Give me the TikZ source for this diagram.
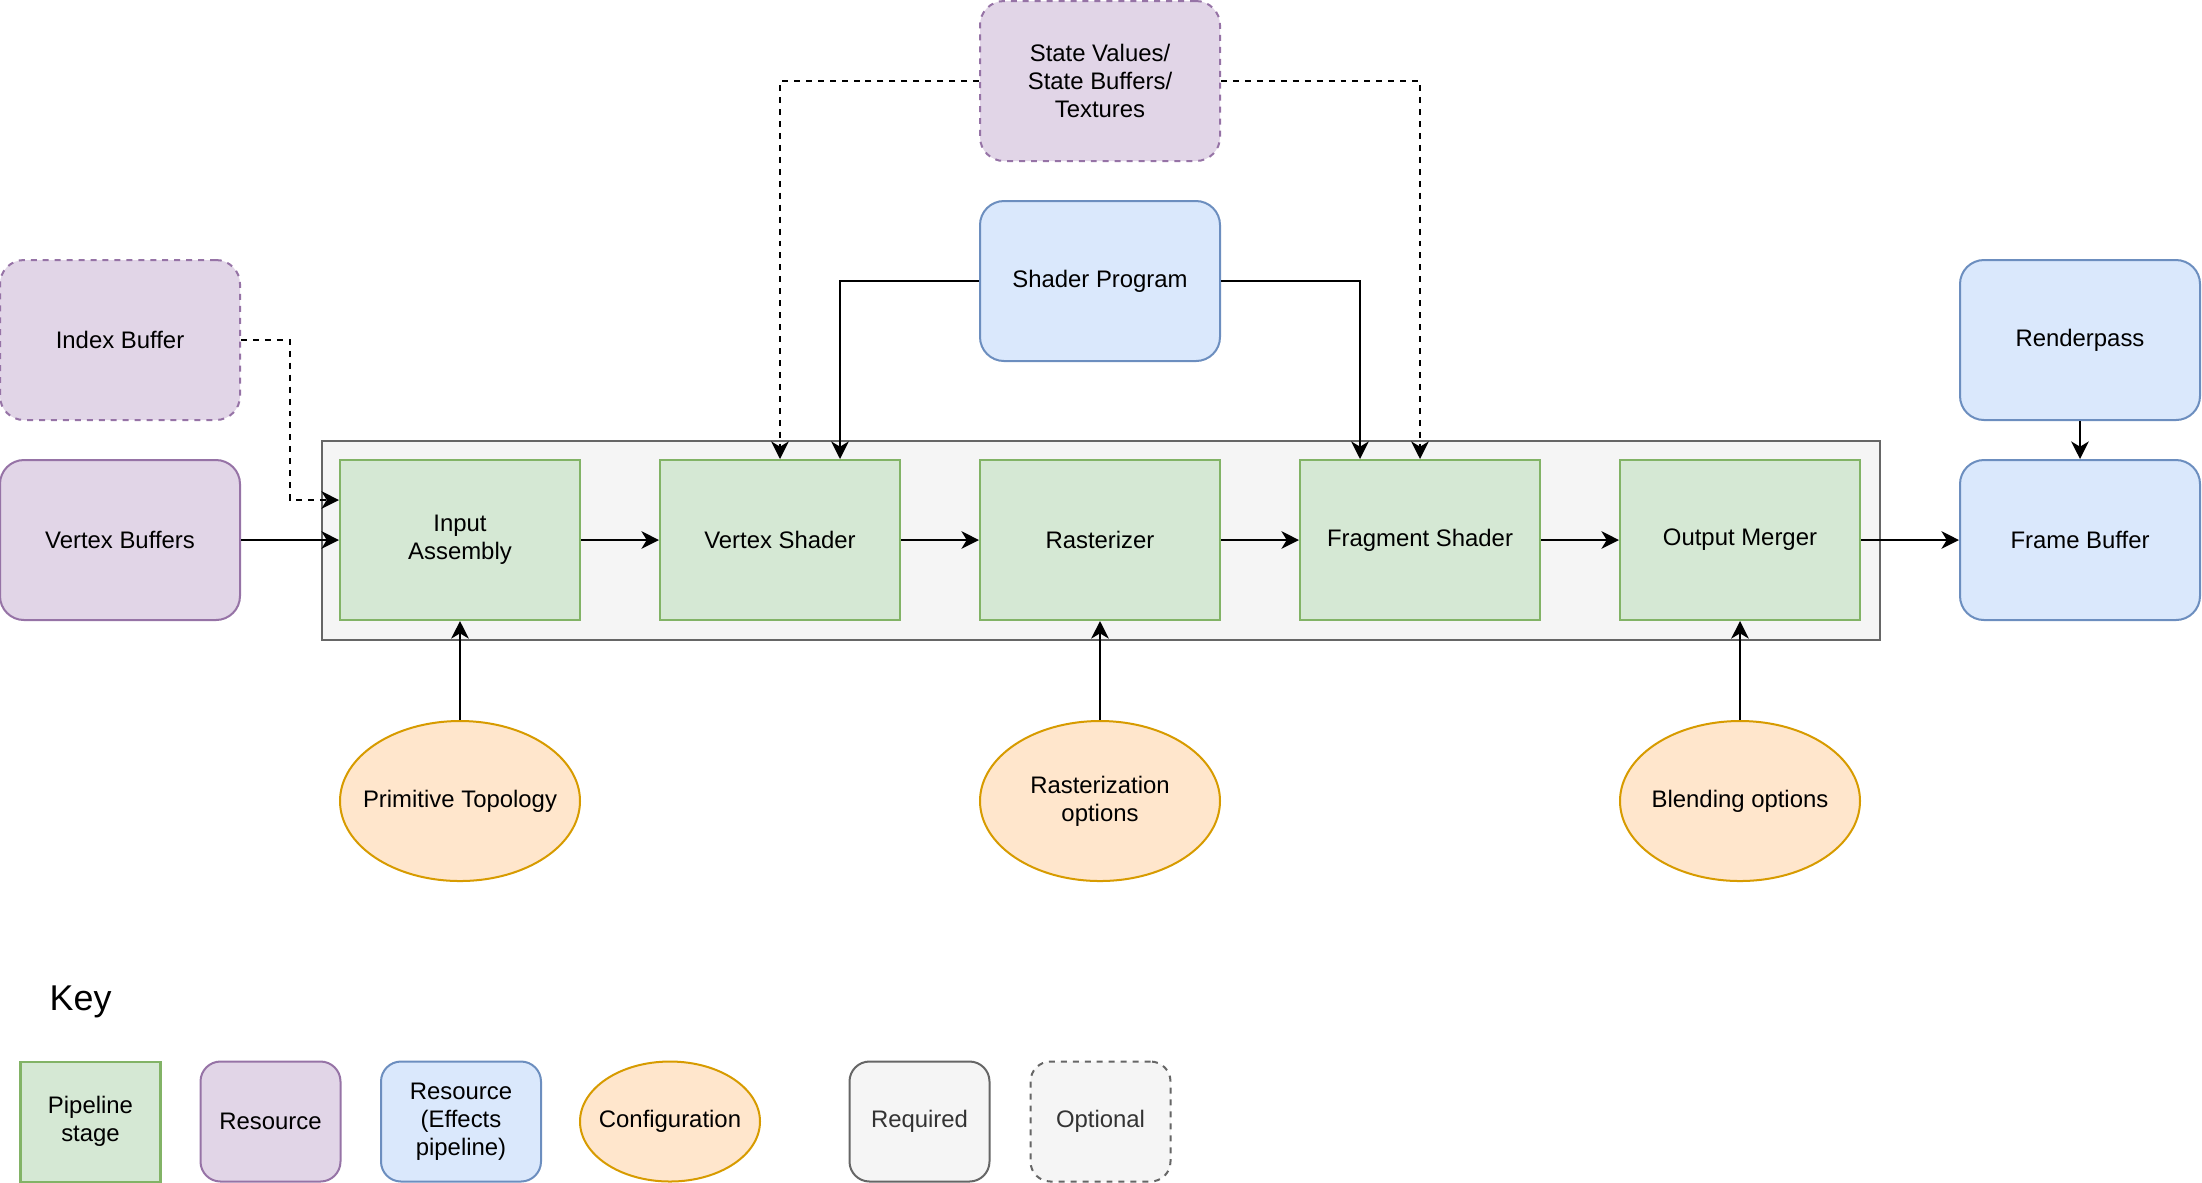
\documentclass[tikz,border=0pt]{standalone}
\usepackage{fontspec}
\setmainfont{Liberation Sans}
\usepackage{tikz}
\usetikzlibrary{arrows.meta,shapes.geometric}
\definecolor{stagefill}{HTML}{D5E8D4}
\definecolor{stageline}{HTML}{82B366}
\definecolor{resfill}{HTML}{E1D5E7}
\definecolor{resline}{HTML}{9673A6}
\definecolor{efffill}{HTML}{DAE8FC}
\definecolor{effline}{HTML}{6C8EBF}
\definecolor{conffill}{HTML}{FFE6CC}
\definecolor{confline}{HTML}{D79B00}
\definecolor{reqfill}{HTML}{F5F5F5}
\definecolor{reqline}{HTML}{666666}
\definecolor{reqtext}{HTML}{333333}

\begin{document}
\begin{tikzpicture}[>={Stealth[length=5pt,width=5pt,inset=1.5pt]},line width=0.57pt,
  font=\fontsize{6.8}{8}\selectfont,
  box/.style={draw,minimum width=2.4cm,minimum height=1.6cm,inner sep=0pt,align=center},
  stage/.style={box,draw=stageline,fill=stagefill},
  res/.style={box,rounded corners=0.24cm,draw=resline,fill=resfill},
  effres/.style={box,rounded corners=0.24cm,draw=effline,fill=efffill},
  config/.style={box,ellipse,inner xsep=-0.3cm,draw=confline,fill=conffill},
  optional/.style={dash pattern=on 1.7pt off 1.7pt},
  conn/.style={->,black},
  optconn/.style={->,black,optional}]
\useasboundingbox (0,0) rectangle (22.02,-11.82);
% pipeline frame
\node[draw=reqline,fill=reqfill,minimum width=15.58cm,minimum height=1.99cm,inner sep=0pt] (pipe) at (11.01,-5.405) {};
% stages
\node[stage] (ia) at (4.60,-5.40) {Input\\Assembly};
\node[stage] (vs) at (7.80,-5.40) {Vertex Shader};
\node[stage] (ras) at (11.00,-5.40) {Rasterizer};
\node[stage] (fs) at (14.20,-5.40) {Fragment Shader};
\node[stage] (om) at (17.40,-5.40) {Output Merger};
% resources
\node[res,optional] (idx) at (1.20,-3.40) {Index Buffer};
\node[res] (vbuf) at (1.20,-5.40) {Vertex Buffers};
\node[res,optional] (state) at (11.00,-0.81) {State Values/\\State Buffers/\\Textures};
\node[effres] (prog) at (11.00,-2.81) {Shader Program};
\node[effres] (rpass) at (20.80,-3.40) {Renderpass};
\node[effres] (fbuf) at (20.80,-5.40) {Frame Buffer};
% configuration
\node[config] (topo) at (4.60,-8.01) {Primitive Topology};
\node[config] (rasopt) at (11.00,-8.01) {Rasterization\\options};
\node[config] (blend) at (17.40,-8.01) {Blending options};
% connectors
\draw[optconn] (idx.east) -- ++(0.49,0) |- ([yshift=0.4cm]ia.west);
\draw[conn] (vbuf) -- (ia);
\draw[conn] (ia) -- (vs);
\draw[conn] (vs) -- (ras);
\draw[conn] (ras) -- (fs);
\draw[conn] (fs) -- (om);
\draw[conn] (om) -- (fbuf);
\draw[conn] (rpass) -- (fbuf);
\draw[conn] (prog.west) -| ([xshift=0.6cm]vs.north);
\draw[conn] (prog.east) -| ([xshift=-0.6cm]fs.north);
\draw[optconn] (state.west) -| (vs.north);
\draw[optconn] (state.east) -| (fs.north);
\draw[conn] (topo) -- (ia);
\draw[conn] (rasopt) -- (ras);
\draw[conn] (blend) -- (om);
% key
\node[anchor=west,font=\fontsize{10.2}{12}\selectfont] (key) at (0.37,-10.02) {Key};
\node[stage,minimum width=1.4cm,minimum height=1.2cm] (kstage) at (0.905,-11.215) {Pipeline\\stage};
\node[res,minimum width=1.4cm,minimum height=1.2cm,rounded corners=0.2cm] (kres) at (2.705,-11.215) {Resource};
\node[effres,minimum width=1.6cm,minimum height=1.2cm,rounded corners=0.2cm] (keff) at (4.61,-11.215) {Resource\\(Effects\\pipeline)};
\node[config,minimum width=1.8cm,minimum height=1.2cm] (kconf) at (6.70,-11.215) {Configuration};
\node[box,draw=reqline,fill=reqfill,text=reqtext,minimum width=1.4cm,minimum height=1.2cm,rounded corners=0.2cm] (kreq) at (9.195,-11.215) {Required};
\node[box,optional,draw=reqline,fill=reqfill,text=reqtext,minimum width=1.4cm,minimum height=1.2cm,rounded corners=0.2cm] (kopt) at (11.005,-11.215) {Optional};
\end{tikzpicture}
\end{document}
